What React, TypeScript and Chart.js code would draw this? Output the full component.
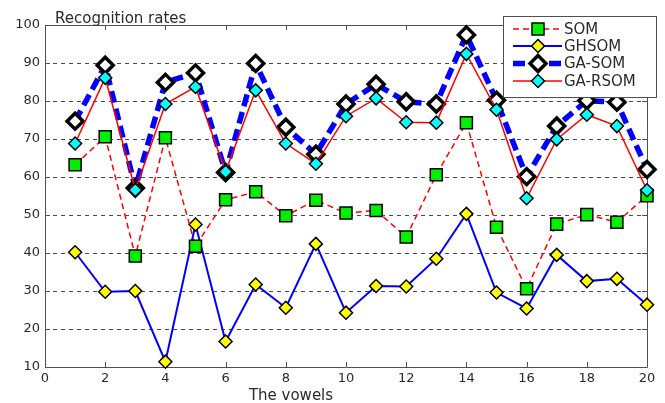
import React, { useEffect, useRef } from "react";
import { Chart, registerables } from "chart.js";

Chart.register(...registerables);

const vowels = [1, 2, 3, 4, 5, 6, 7, 8, 9, 10, 11, 12, 13, 14, 15, 16, 17, 18, 19, 20];
const seriesNames = ["SOM", "GHSOM", "GA-SOM", "GA-RSOM"];
const somRates = [63.2, 70.6, 39.2, 70.3, 41.8, 54.0, 56.1, 49.8, 53.9, 50.5, 51.2, 44.2, 60.6, 74.3, 46.8, 30.6, 47.6, 50.1, 48.1, 55.1];
const ghsomRates = [40.2, 29.8, 30.0, 11.4, 47.5, 16.7, 31.7, 25.6, 42.4, 24.3, 31.3, 31.2, 38.5, 50.3, 29.6, 25.4, 39.5, 32.6, 33.2, 26.4];
const gaSomRates = [74.7, 89.4, 57.1, 84.9, 87.4, 61.2, 89.9, 73.1, 66.0, 79.2, 84.4, 79.8, 79.2, 97.4, 80.2, 60.1, 73.4, 80.1, 79.7, 62.0];
const gaRsomRates = [68.8, 86.1, 56.6, 79.2, 83.7, 61.4, 82.8, 68.8, 63.5, 76.0, 80.7, 74.4, 74.3, 92.4, 77.7, 54.4, 69.9, 76.4, 73.4, 56.5];
const xTickValues = [0, 2, 4, 6, 8, 10, 12, 14, 16, 18, 20];
const yTickValues = [10, 20, 30, 40, 50, 60, 70, 80, 90, 100];
const yTitle = "Recognition rates";
const xTitle = "The vowels";

const FONT = "'DejaVu Sans', sans-serif";
const TEXT = "#2a2a2a";
const FRAME = "#505050";

const toPoints = (vals: number[]) => vals.map((v, i) => ({ x: vowels[i], y: v }));

function drawMarker(ctx: CanvasRenderingContext2D, style: string, x: number, y: number, r: number, fill: string, stroke: string, bw: number) {
  ctx.save();
  ctx.beginPath();
  if (style === "rect") {
    const s = Math.SQRT1_2 * r;
    ctx.rect(x - s, y - s, 2 * s, 2 * s);
  } else {
    ctx.moveTo(x - r, y);
    ctx.lineTo(x, y - r);
    ctx.lineTo(x + r, y);
    ctx.lineTo(x, y + r);
    ctx.closePath();
  }
  ctx.fillStyle = fill;
  ctx.fill();
  ctx.lineWidth = bw;
  ctx.strokeStyle = stroke;
  ctx.setLineDash([]);
  ctx.stroke();
  ctx.restore();
}

const framePlugin = {
  id: "framePlugin",
  beforeDatasetsDraw(chart: any) {
    const { ctx, chartArea } = chart;
    const { left, right, top, bottom } = chartArea;
    const xs = chart.scales.x;
    const ys = chart.scales.y;
    ctx.save();
    ctx.strokeStyle = FRAME;
    ctx.lineWidth = 1;
    ctx.setLineDash([]);
    ctx.beginPath();
    ctx.rect(left + 0.5, top + 0.5, right - left, bottom - top);
    ctx.stroke();
    ctx.beginPath();
    xTickValues.forEach((v) => {
      const px = Math.round(xs.getPixelForValue(v)) + 0.5;
      ctx.moveTo(px, bottom);
      ctx.lineTo(px, bottom - 5);
      ctx.moveTo(px, top);
      ctx.lineTo(px, top + 5);
    });
    yTickValues.forEach((v) => {
      const py = Math.round(ys.getPixelForValue(v)) + 0.5;
      ctx.moveTo(left, py);
      ctx.lineTo(left + 5, py);
      ctx.moveTo(right, py);
      ctx.lineTo(right - 5, py);
    });
    ctx.stroke();
    ctx.restore();
  },
  afterDraw(chart: any) {
    const { ctx } = chart;
    ctx.save();
    ctx.fillStyle = TEXT;
    ctx.font = `15px ${FONT}`;
    ctx.textAlign = "left";
    ctx.textBaseline = "alphabetic";
    ctx.fillText(yTitle, 55, 22.5);
    ctx.textAlign = "center";
    ctx.textBaseline = "middle";
    ctx.fillText(xTitle, 291, 396);

    // legend
    const bx = 503, by = 16, bw = 153, bh = 81;
    ctx.fillStyle = "#ffffff";
    ctx.fillRect(bx, by, bw, bh);
    ctx.strokeStyle = FRAME;
    ctx.lineWidth = 1;
    ctx.strokeRect(bx + 0.5, by + 0.5, bw, bh);
    const rows = [29, 46, 63.5, 81];
    chart.data.datasets.forEach((ds: any, i: number) => {
      const y = rows[i];
      ctx.save();
      ctx.strokeStyle = ds.borderColor;
      ctx.lineWidth = ds.borderWidth;
      ctx.setLineDash(ds.borderDash || []);
      ctx.beginPath();
      ctx.moveTo(513, y);
      ctx.lineTo(562, y);
      ctx.stroke();
      ctx.restore();
      drawMarker(ctx, ds.pointStyle, 538, y, ds.pointRadius, ds.pointBackgroundColor, ds.pointBorderColor, ds.pointBorderWidth);
      ctx.fillStyle = TEXT;
      ctx.font = `15px ${FONT}`;
      ctx.textAlign = "left";
      ctx.textBaseline = "middle";
      ctx.fillText(ds.label, 564, y + 1);
    });
    ctx.restore();
  },
};

export default function App() {
  const ref = useRef<HTMLCanvasElement | null>(null);
  useEffect(() => {
    if (!ref.current) return;
    const chart = new Chart(ref.current, {
      type: "line",
      data: {
        datasets: [
          {
            label: seriesNames[0],
            data: toPoints(somRates),
            borderColor: "#ff0000",
            borderWidth: 1.5,
            borderDash: [6, 4],
            pointStyle: "rect",
            pointRadius: 8.5,
            pointBackgroundColor: "#00f000",
            pointBorderColor: "#000000",
            pointBorderWidth: 1.5,
            order: 2,
            clip: false,
          },
          {
            label: seriesNames[1],
            data: toPoints(ghsomRates),
            borderColor: "#0000ff",
            borderWidth: 2,
            borderDash: [],
            pointStyle: "rectRot",
            pointRadius: 6.5,
            pointBackgroundColor: "#ffff00",
            pointBorderColor: "#000000",
            pointBorderWidth: 1.5,
            order: 3,
            clip: false,
          },
          {
            label: seriesNames[2],
            data: toPoints(gaSomRates),
            borderColor: "#0000ff",
            borderWidth: 5.5,
            borderDash: [12, 6],
            pointStyle: "rectRot",
            pointRadius: 8,
            pointBackgroundColor: "#ffffff",
            pointBorderColor: "#000000",
            pointBorderWidth: 3.5,
            order: 1,
            clip: false,
          },
          {
            label: seriesNames[3],
            data: toPoints(gaRsomRates),
            borderColor: "#ff0000",
            borderWidth: 1.5,
            borderDash: [],
            pointStyle: "rectRot",
            pointRadius: 6.5,
            pointBackgroundColor: "#00ffff",
            pointBorderColor: "#000000",
            pointBorderWidth: 1.5,
            order: 0,
            clip: false,
          },
        ] as any,
      },
      options: {
        responsive: false,
        animation: false,
        events: [],
        layout: { padding: { top: 25, right: 18, left: 0, bottom: 0 } },
        plugins: {
          legend: { display: false },
          title: { display: false },
          tooltip: { enabled: false },
        },
        elements: { line: { tension: 0 } },
        scales: {
          x: {
            type: "linear",
            min: 0,
            max: 20,
            afterFit: (s: any) => {
              s.height = 36;
            },
            afterBuildTicks: (s: any) => {
              s.ticks = xTickValues.map((v) => ({ value: v }));
            },
            grid: { display: false, drawTicks: false },
            border: { display: false },
            ticks: {
              padding: 4,
              color: TEXT,
              font: { family: FONT, size: 13 },
              maxRotation: 0,
            },
          },
          y: {
            type: "linear",
            min: 10,
            max: 100,
            afterFit: (s: any) => {
              s.width = 45;
            },
            afterBuildTicks: (s: any) => {
              s.ticks = yTickValues.map((v) => ({ value: v }));
            },
            grid: {
              drawTicks: false,
              lineWidth: 1,
              color: (c: any) =>
                c.tick && (c.tick.value === 10 || c.tick.value === 100) ? "rgba(0,0,0,0)" : "#4a4a4a",
            },
            border: { display: false, dash: [4, 4] },
            ticks: {
              padding: 5,
              color: TEXT,
              font: { family: FONT, size: 13 },
            },
          },
        },
      } as any,
      plugins: [framePlugin],
    });
    return () => chart.destroy();
  }, []);
  return (
    <div style={{ position: "absolute", left: 0, top: 0, width: 665, height: 403, background: "#fff" }}>
      <canvas ref={ref} width={665} height={403} style={{ display: "block" }} />
    </div>
  );
}
